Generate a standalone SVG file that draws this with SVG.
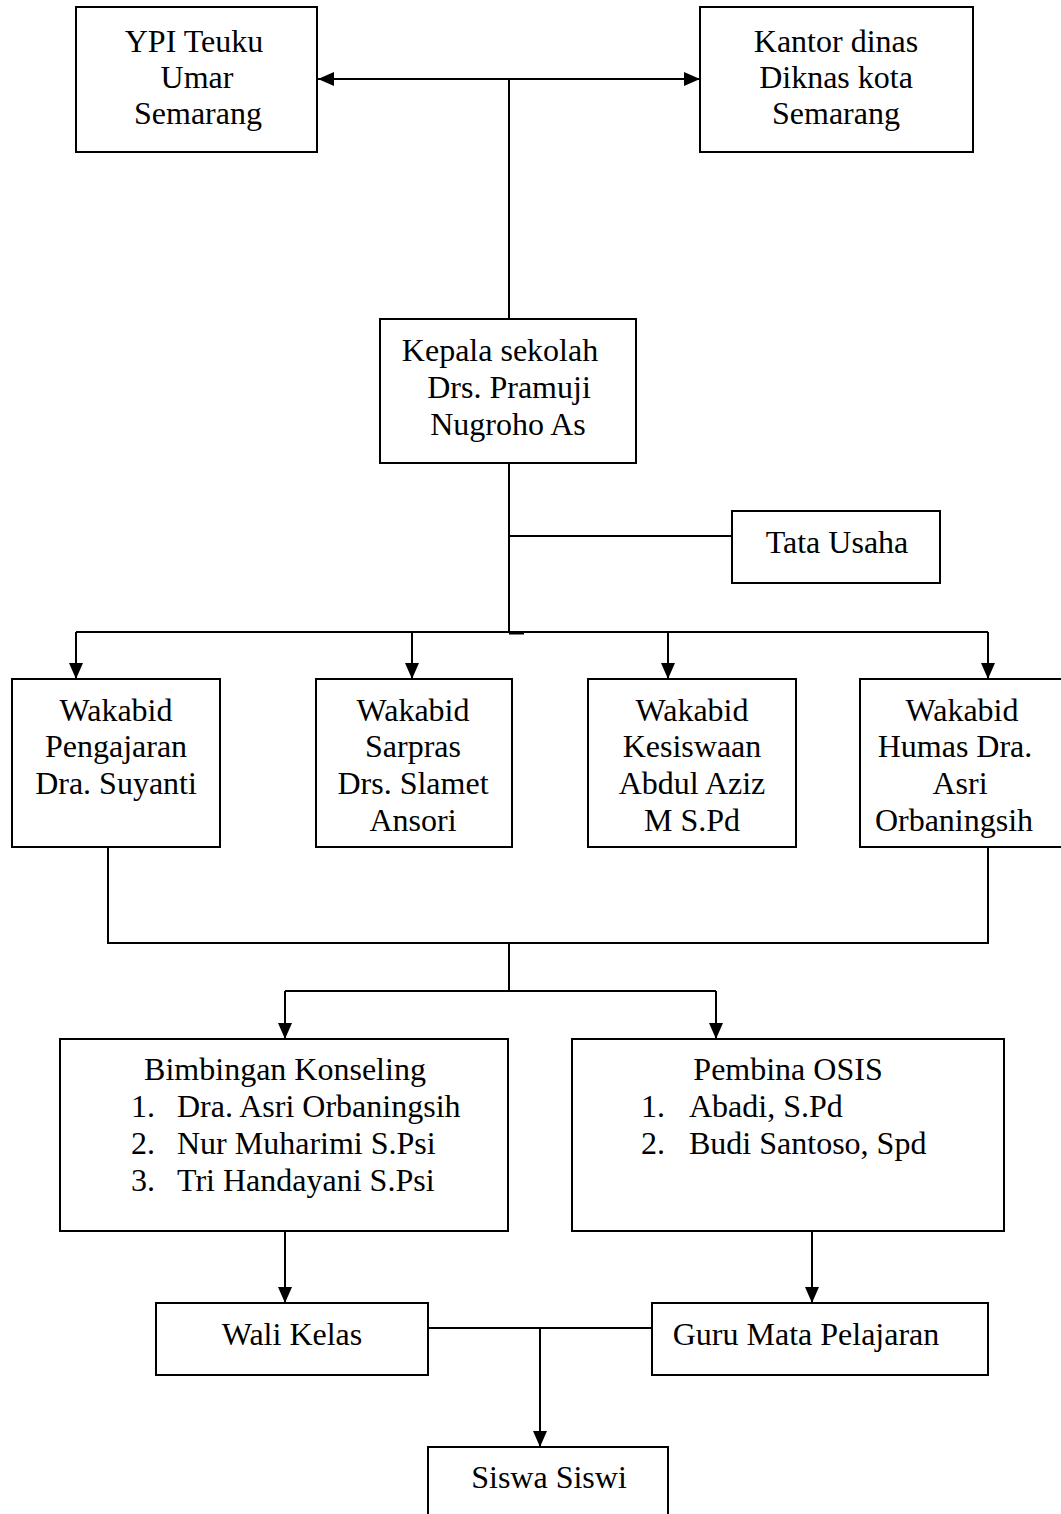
<svg xmlns="http://www.w3.org/2000/svg" width="1061" height="1514" viewBox="0 0 1061 1514">
<defs>
<marker id="ah" markerWidth="16" markerHeight="14" refX="16" refY="7" orient="auto-start-reverse" markerUnits="userSpaceOnUse">
<path d="M0,0 L16,7 L0,14 z" fill="#000"/>
</marker>
<style>
rect.box{fill:#fff;stroke:#000;stroke-width:2}
text{font-family:"Liberation Serif","Times New Roman",serif;font-size:32px;fill:#000}
.c{text-anchor:middle}
#connectors line,#connectors polyline{stroke:#000;stroke-width:2;fill:none}
</style>
</defs>
<rect width="1061" height="1514" fill="#fff"/>
<g id="connectors">
<line x1="318" y1="79" x2="700" y2="79" marker-start="url(#ah)" marker-end="url(#ah)"/>
<line x1="509" y1="79" x2="509" y2="319"/>
<line x1="509" y1="463" x2="509" y2="632"/>
<line x1="509" y1="536" x2="732" y2="536"/>
<line x1="76" y1="632" x2="988" y2="632"/>
<line x1="509" y1="633" x2="524" y2="633" style="stroke-width:3"/>
<line x1="76" y1="632" x2="76" y2="679" marker-end="url(#ah)"/>
<line x1="412" y1="632" x2="412" y2="679" marker-end="url(#ah)"/>
<line x1="668" y1="632" x2="668" y2="679" marker-end="url(#ah)"/>
<line x1="988" y1="632" x2="988" y2="679" marker-end="url(#ah)"/>
<polyline points="108,847 108,943 988,943 988,847"/>
<line x1="509" y1="943" x2="509" y2="991"/>
<line x1="285" y1="991" x2="716" y2="991"/>
<line x1="285" y1="991" x2="285" y2="1039" marker-end="url(#ah)"/>
<line x1="716" y1="991" x2="716" y2="1039" marker-end="url(#ah)"/>
<line x1="285" y1="1231" x2="285" y2="1303" marker-end="url(#ah)"/>
<line x1="812" y1="1231" x2="812" y2="1303" marker-end="url(#ah)"/>
<line x1="428" y1="1328" x2="652" y2="1328"/>
<line x1="540" y1="1328" x2="540" y2="1447" marker-end="url(#ah)"/>
</g>
<g id="ypi">
<rect class="box" x="76" y="7" width="241" height="145"/>
<text class="c" x="194" y="52">YPI Teuku</text>
<text class="c" x="197" y="88">Umar</text>
<text class="c" x="198" y="124">Semarang</text>
</g>
<g id="kantor">
<rect class="box" x="700" y="7" width="273" height="145"/>
<text class="c" x="836" y="52">Kantor dinas</text>
<text class="c" x="836" y="88">Diknas kota</text>
<text class="c" x="836" y="124">Semarang</text>
</g>
<g id="kepala">
<rect class="box" x="380" y="319" width="256" height="144"/>
<text class="c" x="500" y="361">Kepala sekolah</text>
<text class="c" x="509" y="398">Drs. Pramuji</text>
<text class="c" x="508" y="435">Nugroho As</text>
</g>
<g id="tatausaha">
<rect class="box" x="732" y="511" width="208" height="72"/>
<text class="c" x="837" y="553">Tata Usaha</text>
</g>
<g id="wakabid1">
<rect class="box" x="12" y="679" width="208" height="168"/>
<text class="c" x="116" y="721">Wakabid</text>
<text class="c" x="116" y="757">Pengajaran</text>
<text class="c" x="116" y="794">Dra. Suyanti</text>
</g>
<g id="wakabid2">
<rect class="box" x="316" y="679" width="196" height="168"/>
<text class="c" x="413" y="721">Wakabid</text>
<text class="c" x="413" y="757">Sarpras</text>
<text class="c" x="413" y="794">Drs. Slamet</text>
<text class="c" x="413" y="831">Ansori</text>
</g>
<g id="wakabid3">
<rect class="box" x="588" y="679" width="208" height="168"/>
<text class="c" x="692" y="721">Wakabid</text>
<text class="c" x="692" y="757">Kesiswaan</text>
<text class="c" x="692" y="794">Abdul Aziz</text>
<text class="c" x="692" y="831">M S.Pd</text>
</g>
<g id="wakabid4">
<rect class="box" x="860" y="679" width="206" height="168"/>
<text class="c" x="962" y="721">Wakabid</text>
<text class="c" x="955" y="757">Humas Dra.</text>
<text class="c" x="960" y="794">Asri</text>
<text class="c" x="954" y="831">Orbaningsih</text>
</g>
<g id="bk">
<rect class="box" x="60" y="1039" width="448" height="192"/>
<text class="c" x="285" y="1080">Bimbingan Konseling</text>
<text x="131" y="1117">1.</text><text x="177" y="1117">Dra. Asri Orbaningsih</text>
<text x="131" y="1154">2.</text><text x="177" y="1154">Nur Muharimi S.Psi</text>
<text x="131" y="1191">3.</text><text x="177" y="1191">Tri Handayani S.Psi</text>
</g>
<g id="osis">
<rect class="box" x="572" y="1039" width="432" height="192"/>
<text class="c" x="788" y="1080">Pembina OSIS</text>
<text x="641" y="1117">1.</text><text x="689" y="1117">Abadi, S.Pd</text>
<text x="641" y="1154">2.</text><text x="689" y="1154">Budi Santoso, Spd</text>
</g>
<g id="walikelas">
<rect class="box" x="156" y="1303" width="272" height="72"/>
<text class="c" x="292" y="1345">Wali Kelas</text>
</g>
<g id="guru">
<rect class="box" x="652" y="1303" width="336" height="72"/>
<text class="c" x="806" y="1345">Guru Mata Pelajaran</text>
</g>
<g id="siswa">
<rect class="box" x="428" y="1447" width="240" height="80"/>
<text class="c" x="549" y="1488">Siswa Siswi</text>
</g>
</svg>
